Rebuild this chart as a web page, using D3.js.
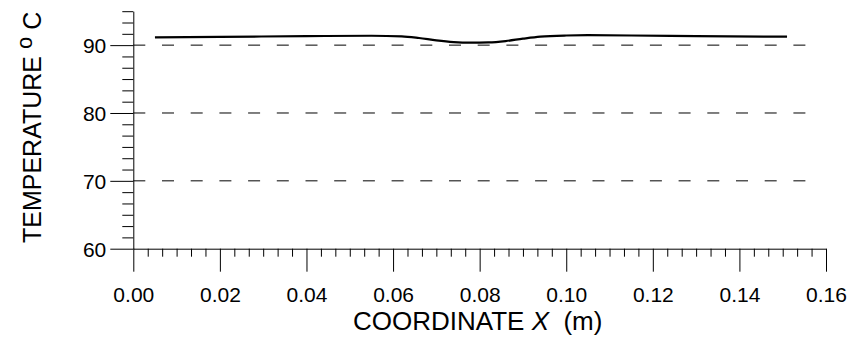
<!DOCTYPE html>
<html>
<head>
<meta charset="utf-8">
<script src="https://cdn.jsdelivr.net/npm/d3@7"></script>
<style>
  html, body { margin: 0; padding: 0; background: #fff; }
  svg { display: block; font-family: "Liberation Sans", Arial, sans-serif; }
</style>
</head>
<body>
<svg id="chart" width="849" height="337"></svg>
<script>
// ---- data ----
const xValues = [0.005, 0.02, 0.04, 0.055, 0.062, 0.066, 0.070, 0.074, 0.078, 0.082, 0.086, 0.090, 0.094, 0.100, 0.105, 0.115, 0.130, 0.151];
const temperature = [91.15, 91.22, 91.32, 91.38, 91.30, 91.05, 90.70, 90.45, 90.36, 90.40, 90.60, 90.95, 91.25, 91.42, 91.46, 91.42, 91.34, 91.24];
const xTicks = [0.00, 0.02, 0.04, 0.06, 0.08, 0.10, 0.12, 0.14, 0.16];
const yTicks = [60, 70, 80, 90];
const gridValues = [70, 80, 90];
const xLabel = "COORDINATE ";
const xLabelVar = "X";
const xLabelUnit = "  (m)";
const yLabel = "TEMPERATURE ";

const svg = d3.select("#chart");
const x = d3.scaleLinear().domain([0, 0.16]).range([133.3, 826]);
const y = d3.scaleLinear().domain([60, 95]).range([248.7, 11.2]);

// minor tick values
const xMinor = d3.range(0, 49).map(i => i * 0.16 / 48).filter((v, i) => i % 6 !== 0);
const yMinor = d3.range(0, 22).map(i => 60 + i * 10 / 6).filter((v, i) => i % 6 !== 0);

// gridlines
svg.append("g").selectAll("line").data(gridValues).join("line")
  .attr("x1", x(0)).attr("x2", 810)
  .attr("y1", d => y(d)).attr("y2", d => y(d))
  .attr("stroke", "#000").attr("stroke-width", 1)
  .attr("stroke-dasharray", "12,16.7");

// x axis
const gx = svg.append("g").attr("transform", `translate(0,${y(60)})`);
gx.call(d3.axisBottom(x).tickValues(xTicks).tickFormat(d3.format(".2f"))
  .tickSize(23).tickSizeOuter(0).tickPadding(15));
gx.append("g").call(d3.axisBottom(x).tickValues(xMinor).tickFormat("").tickSize(8).tickSizeOuter(0))
  .select(".domain").remove();

// y axis
const gy = svg.append("g").attr("transform", `translate(${x(0)},0)`);
gy.call(d3.axisLeft(y).tickValues(yTicks).tickFormat(d3.format("d"))
  .tickSize(23).tickSizeOuter(0).tickPadding(4));
gy.append("g").call(d3.axisLeft(y).tickValues(yMinor).tickFormat("").tickSize(11).tickSizeOuter(0))
  .select(".domain").remove();

svg.selectAll(".tick text").attr("font-size", 21).attr("fill", "#000")
  .attr("font-family", "'Liberation Sans', Arial, sans-serif");
gy.selectAll(".tick text").attr("dy", "0.36em");
svg.selectAll(".domain, .tick line").attr("stroke", "#000").attr("stroke-width", 1);

// line
const line = d3.line().x((d, i) => x(xValues[i])).y(d => y(d)).curve(d3.curveMonotoneX);
svg.append("path").datum(temperature)
  .attr("d", line).attr("fill", "none").attr("stroke", "#000").attr("stroke-width", 2.2);

// x label
const xl = svg.append("text").attr("x", 353).attr("y", 329.5)
  .attr("font-size", 26).attr("fill", "#000").style("white-space", "pre");
xl.append("tspan").text(xLabel);
xl.append("tspan").attr("font-style", "italic").text(xLabelVar);
xl.append("tspan").text(xLabelUnit);

// y label
const yl = svg.append("text").attr("transform", "translate(40.5,243) rotate(-90)")
  .attr("font-size", 25).attr("fill", "#000").style("white-space", "pre");
yl.append("tspan").text(yLabel);
yl.append("tspan").attr("font-size", 22).attr("dy", -9).text("o");
yl.append("tspan").attr("dy", 9).text(" C");
</script>
</body>
</html>
